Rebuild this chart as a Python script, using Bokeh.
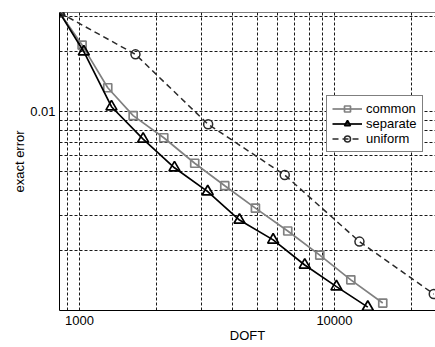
from bokeh.plotting import figure
from bokeh.models import (FixedTicker, Span, Legend, LegendItem, CustomJSTickFormatter)
from bokeh.embed import file_html
from bokeh.resources import INLINE

# ---- data ----
common_doft = [835, 1024, 1291, 1624, 2141, 2831, 3714, 4898, 6559, 8758, 11590, 15466]
common_err = [0.0315, 0.0216, 0.01318, 0.00954, 0.00739, 0.0055, 0.00424, 0.00327, 0.00251, 0.0019, 0.001426, 0.00109]

separate_doft = [835, 1040, 1335, 1777, 2358, 3184, 4241, 5749, 7646, 10181, 13510]
separate_err = [0.0315, 0.020, 0.01058, 0.00728, 0.00522, 0.00396, 0.00285, 0.002265, 0.001694, 0.001318, 0.00104]

uniform_doft = [835, 1658, 3196, 6383, 12530, 24510]
uniform_err = [0.0315, 0.0194, 0.00863, 0.0048, 0.00222, 0.00121]

x_tick_values = [1000, 10000]
x_tick_labels = ["1000", "10000"]
y_tick_values = [0.01]
y_tick_labels = ["0.01"]
x_grid_values = [900, 1000, 2000, 3000, 4000, 5000, 6000, 7000, 8000, 9000, 10000, 20000]
y_grid_values = [0.002, 0.003, 0.004, 0.005, 0.006, 0.007, 0.008, 0.009, 0.01, 0.02, 0.03]

x_start, x_end = 835, 24900
y_start, y_end = 0.001, 0.0315

FONT = "Liberation Sans"
FS = "13px"

p = figure(width=435, height=347, x_axis_type="log", y_axis_type="log",
           x_range=(x_start, x_end), y_range=(y_start, y_end),
           output_backend="svg", toolbar_location=None,
           min_border_left=59, min_border_right=0, min_border_top=12, min_border_bottom=37)
p.outline_line_color = None
p.background_fill_color = "white"
p.border_fill_color = "white"

# axes
for ax, vals, labs in ((p.xaxis[0], x_tick_values, x_tick_labels), (p.yaxis[0], y_tick_values, y_tick_labels)):
    ax.ticker = FixedTicker(ticks=vals, minor_ticks=[])
    ax.formatter = CustomJSTickFormatter(code="return tick.toString()")
    ax.major_label_overrides = {v: l for v, l in zip(vals, labs)}
    ax.major_tick_in = 0
    ax.major_tick_out = 0
    ax.minor_tick_in = 0
    ax.minor_tick_out = 0
    ax.axis_line_color = "black"
    ax.axis_line_width = 1
    ax.major_label_text_font = FONT
    ax.major_label_text_font_size = FS
    ax.major_label_text_color = "black"
    ax.axis_label_text_font = FONT
    ax.axis_label_text_font_size = FS
    ax.axis_label_text_font_style = "normal"
    ax.axis_label_text_color = "black"

p.xaxis.axis_label = "DOFT"
p.yaxis.axis_label = "exact error"
p.xaxis.major_label_standoff = 5
p.xaxis.axis_label_standoff = 0
p.yaxis.major_label_standoff = 4
p.yaxis.axis_label_standoff = 0

# grid
p.xgrid.ticker = FixedTicker(ticks=x_grid_values, minor_ticks=[])
p.ygrid.ticker = FixedTicker(ticks=y_grid_values, minor_ticks=[])
for g in (p.xgrid[0], p.ygrid[0]):
    g.grid_line_color = "black"
    g.grid_line_dash = "3 2"
    g.grid_line_width = 1
    g.grid_line_alpha = 0.9

# top frame border
p.add_layout(Span(location=y_end, dimension="width", line_color="black", line_width=1))

gray = "#808080"
l1 = p.line(common_doft, common_err, line_color=gray, line_width=1.7)
s1 = p.scatter(common_doft, common_err, marker="square", size=8, line_color=gray,
               fill_color=None, line_width=1.7)
l2 = p.line(separate_doft, separate_err, line_color="black", line_width=1.7)
s2 = p.scatter(separate_doft, separate_err, marker="triangle", size=11, line_color="black",
               fill_color=None, line_width=1.7)
l3 = p.line(uniform_doft, uniform_err, line_color="#2a2a2a", line_width=1.5, line_dash="6 4")
s3 = p.scatter(uniform_doft, uniform_err, marker="circle", size=9, line_color="#2a2a2a",
               fill_color=None, line_width=1.5)

legend = Legend(items=[LegendItem(label="common", renderers=[l1, s1]),
                       LegendItem(label="separate", renderers=[l2, s2]),
                       LegendItem(label="uniform", renderers=[l3, s3])],
                location=(267, 158))
legend.border_line_color = "black"
legend.border_line_width = 1
legend.background_fill_color = "white"
legend.background_fill_alpha = 1
legend.label_text_font = FONT
legend.label_text_font_size = FS
legend.label_text_color = "black"
legend.glyph_width = 30
legend.glyph_height = 15
legend.label_height = 15
legend.label_standoff = 4
legend.spacing = 0
legend.padding = 5
legend.margin = 0
p.add_layout(legend, "center")

open("out.html", "w").write(file_html(p, INLINE))
